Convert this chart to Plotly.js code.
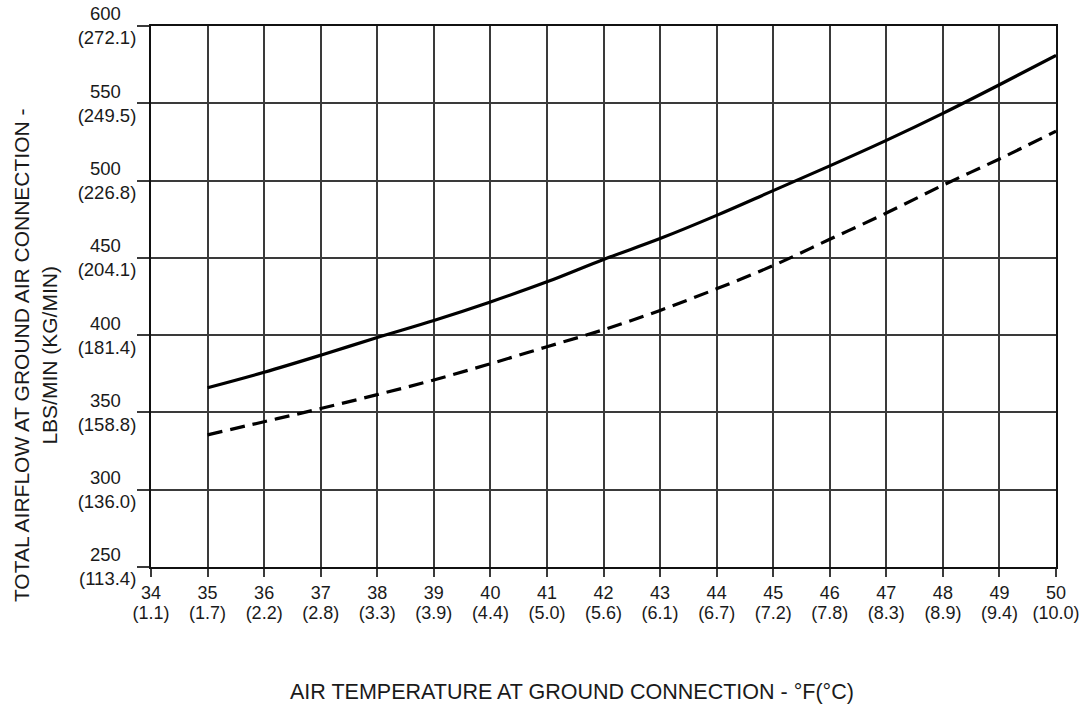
<!DOCTYPE html>
<html>
<head>
<meta charset="utf-8">
<script src="https://cdn.plot.ly/plotly-3.0.1.min.js"></script>
<style>html,body{margin:0;padding:0;background:#fff;}#chart{width:1091px;height:709px;}</style>
</head>
<body>
<div id="chart"></div>
<script>
// Air temperature (°F) and its °C equivalent
const tempF = [34, 35, 36, 37, 38, 39, 40, 41, 42, 43, 44, 45, 46, 47, 48, 49, 50];
const tempC = ['1.1', '1.7', '2.2', '2.8', '3.3', '3.9', '4.4', '5.0', '5.6', '6.1', '6.7', '7.2', '7.8', '8.3', '8.9', '9.4', '10.0'];
// Airflow ticks (lbs/min) and kg/min equivalents
const flowLbs = [250, 300, 350, 400, 450, 500, 550, 600];
const flowKg = ['113.4', '136.0', '158.8', '181.4', '204.1', '226.8', '249.5', '272.1'];
// Curves
const curveTemp = [35, 36, 37, 38, 39, 40, 41, 42, 43, 44, 45, 46, 47, 48, 49, 50];
const solidFlow = [366, 376, 387, 398.5, 409.5, 421.5, 434.5, 449, 462.5, 477.5, 493.5, 509.5, 526, 543.5, 562, 581];
const dashedFlow = [335.5, 344, 352.5, 361.5, 371, 381.5, 392.5, 403.5, 416, 430, 445, 462, 479, 497, 514, 532];

const FONT = '"Liberation Sans", Arial, Helvetica, sans-serif';
const INK = '#1a1a1a';
const PAD = '\u00a0\u00a0\u00a0'; // centres the short lbs/min line over the kg/min line

const traces = [
  {x: curveTemp, y: solidFlow, mode: 'lines', line: {color: '#000', width: 3.2, shape: 'spline'}, showlegend: false, hoverinfo: 'skip'},
  {x: curveTemp, y: dashedFlow, mode: 'lines', line: {color: '#000', width: 3.2, dash: '15px,8px', shape: 'spline'}, showlegend: false, hoverinfo: 'skip'},
  // invisible carrier so the °C label axis is drawn
  {x: tempF, y: tempF.map(() => null), xaxis: 'x2', mode: 'lines', showlegend: false, hoverinfo: 'skip'}
];

const layout = {
  width: 1091, height: 709,
  margin: {l: 151, r: 35, t: 26, b: 142},
  paper_bgcolor: '#fff', plot_bgcolor: '#fff',
  font: {family: FONT, color: INK},
  showlegend: false,
  xaxis: {
    range: [34, 50], tickmode: 'array', tickvals: tempF,
    ticktext: tempF.map(v => String(v)),
    tickfont: {size: 18, family: FONT, color: INK},
    showgrid: true, gridcolor: '#3a3a3a', gridwidth: 2,
    showline: true, linecolor: '#111', linewidth: 2, mirror: true,
    ticks: 'outside', ticklen: 8, tickwidth: 2, tickcolor: '#3a3a3a',
    zeroline: false, fixedrange: true
  },
  xaxis2: {
    overlaying: 'x', anchor: 'y', side: 'bottom',
    range: [34, 50], tickmode: 'array', tickvals: tempF,
    ticktext: tempC.map(c => '(' + c + ')'),
    tickfont: {size: 18, family: FONT, color: INK},
    showgrid: false, showline: false, ticks: '', ticklabelstandoff: 33,
    zeroline: false, fixedrange: true
  },
  yaxis: {
    range: [250, 600], tickmode: 'array', tickvals: flowLbs,
    ticktext: flowLbs.map((v, i) => v + PAD + '<br>(' + flowKg[i] + ')'),
    tickfont: {size: 18.5, family: FONT, color: INK},
    showgrid: true, gridcolor: '#3a3a3a', gridwidth: 2,
    showline: true, linecolor: '#111', linewidth: 2, mirror: true,
    ticks: 'outside', ticklen: 12, tickwidth: 2, tickcolor: '#3a3a3a',
    ticklabelstandoff: -3,
    zeroline: false, fixedrange: true
  },
  annotations: [
    {text: 'TOTAL AIRFLOW AT GROUND AIR CONNECTION -<br>LBS/MIN (KG/MIN)', xref: 'paper', yref: 'paper',
     x: -0.128, y: 0.392, xanchor: 'center', yanchor: 'middle', textangle: -90, showarrow: false,
     font: {size: 21, family: FONT, color: INK}},
    {text: 'AIR TEMPERATURE AT GROUND CONNECTION - °F(°C)', xref: 'paper', yref: 'paper',
     x: 0.465, y: -0.231, xanchor: 'center', yanchor: 'middle', showarrow: false,
     font: {size: 21.5, family: FONT, color: INK}}
  ]
};

Plotly.newPlot('chart', traces, layout, {displayModeBar: false, staticPlot: true});
</script>
</body>
</html>
